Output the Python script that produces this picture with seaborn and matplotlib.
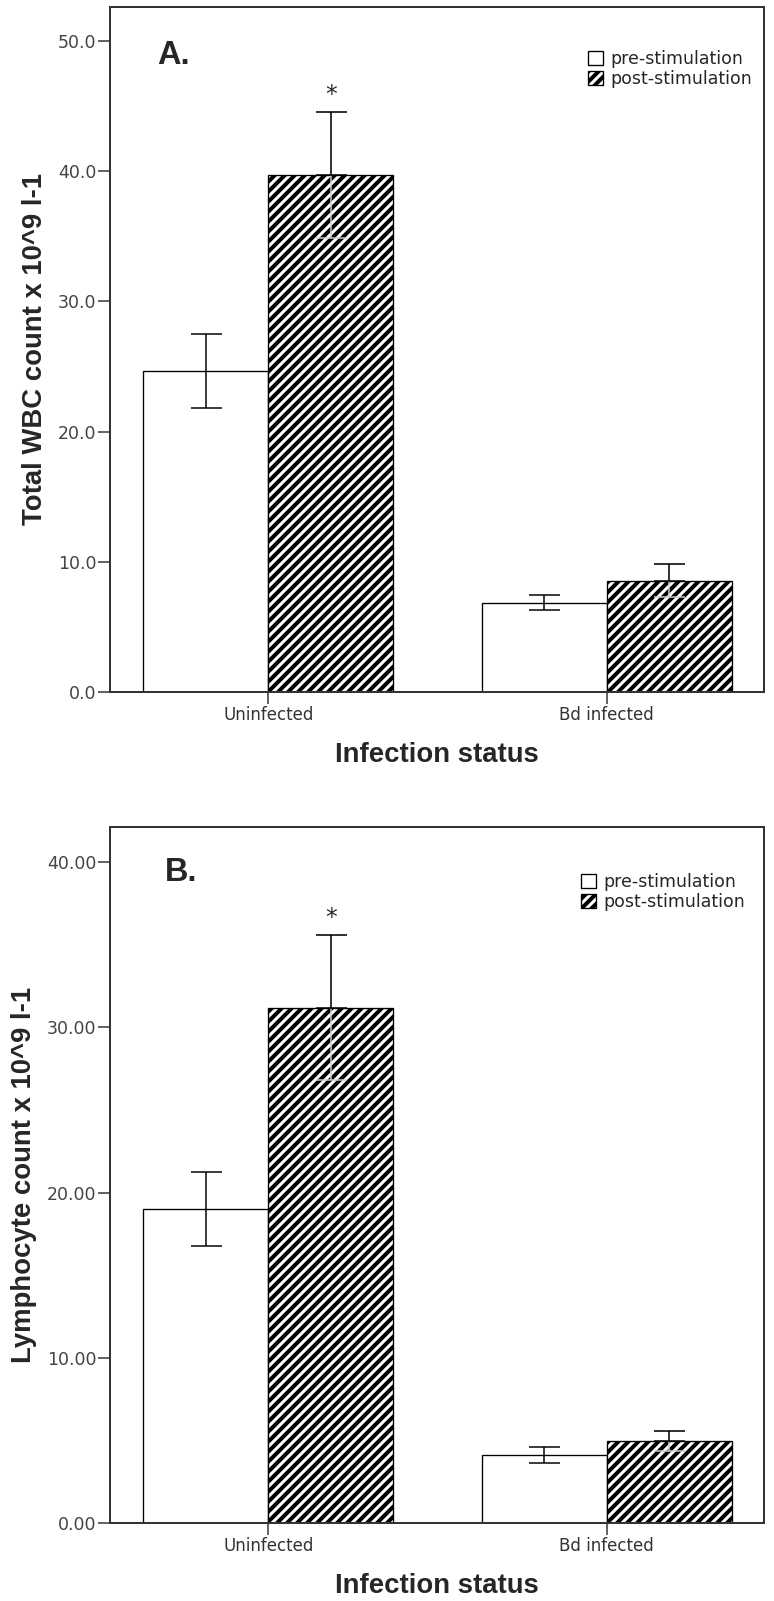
import matplotlib
matplotlib.use('Agg')
import matplotlib.pyplot as plt
import seaborn as sns
import pandas as pd
from matplotlib.ticker import FormatStrFormatter

# group means and standard errors
status = ['Uninfected', 'Bd infected']
stim = ['pre-stimulation', 'post-stimulation']

wbc_pre = [24.65, 6.86]
wbc_post = [39.7, 8.55]
wbc_pre_se = [2.83, 0.59]
wbc_post_se = [4.85, 1.26]

lym_pre = [19.0, 4.15]
lym_post = [31.2, 5.0]
lym_pre_se = [2.23, 0.48]
lym_post_se = [4.4, 0.6]

wbc_ticks = [0, 10, 20, 30, 40, 50]
lym_ticks = [0, 10, 20, 30, 40]

sns.set_style('white')
plt.rcParams['font.family'] = ['DejaVu Sans']
plt.rcParams['hatch.linewidth'] = 2.4
plt.rcParams['hatch.color'] = 'black'

DPI = 120
fig = plt.figure(figsize=(774 / DPI, 1601 / DPI), dpi=DPI)
ax_a = fig.add_axes([0.14212, 0.56777, 0.84496, 0.42805])
ax_b = fig.add_axes([0.14212, 0.04853, 0.84496, 0.43461])


def draw_panel(ax, pre, post, pre_se, post_se, ymax, yticks, fmt, ylabel, letter, letter_pos, leg_anchor):
    df = pd.DataFrame({
        'status': status * 2,
        'stim': [stim[0]] * 2 + [stim[1]] * 2,
        'value': pre + post,
    })
    sns.barplot(data=df, x='status', y='value', hue='stim', order=status, hue_order=stim,
                palette=['white', 'white'], saturation=1, edgecolor='black', linewidth=0.8,
                width=0.738, gap=0, errorbar=None, legend=False, ax=ax)
    for p in ax.containers[1]:
        p.set_hatch('////')

    # error bars (the part inside the hatched bar shows faintly)
    for cont, means, ses, hatched in [(ax.containers[0], pre, pre_se, False),
                                      (ax.containers[1], post, post_se, True)]:
        for bar, m, e in zip(cont, means, ses):
            xc = bar.get_x() + bar.get_width() / 2
            ax.errorbar(xc, m, yerr=e, fmt='none', ecolor='#cfcfcf' if hatched else 'black',
                        elinewidth=0.9, capsize=9.3, capthick=0.9, zorder=4)
            if hatched:
                ax.errorbar(xc, m, yerr=[[0], [e]], fmt='none', ecolor='black',
                            elinewidth=0.9, capsize=9.3, capthick=0.9, zorder=5)

    # significance mark over uninfected post-stimulation
    bar = ax.containers[1][0]
    ax.annotate('*', xy=(bar.get_x() + bar.get_width() / 2, post[0] + post_se[0]),
                xytext=(0, 10.5), textcoords='offset points', ha='center', va='center',
                fontsize=14)

    ax.set_xlim(-0.468, 1.465)
    ax.set_ylim(0, ymax)
    ax.set_yticks(yticks)
    ax.yaxis.set_major_formatter(FormatStrFormatter(fmt))

    for s in ax.spines.values():
        s.set_visible(True)
        s.set_color('#333333')
        s.set_linewidth(1.2)
    ax.tick_params(axis='y', direction='out', length=7, width=0.9, color='#333333',
                   labelcolor='#444444', labelsize=10.4, pad=1, left=True)
    ax.tick_params(axis='x', direction='out', length=7, width=0.9, color='#333333',
                   labelcolor='#333333', labelsize=10, pad=1.5, bottom=True)

    ax.set_xlabel('Infection status', fontsize=16.5, fontweight='bold',
                  family='Liberation Sans', labelpad=10.5)
    ax.set_ylabel(ylabel, fontsize=16.5, fontweight='bold', family='Liberation Sans',
                  labelpad=6)

    ax.text(letter_pos[0], letter_pos[1], letter, transform=ax.transAxes, fontsize=19.5,
            fontweight='bold', family='Liberation Sans', va='baseline', ha='left')

    ax.legend(handles=[ax.containers[0][0], ax.containers[1][0]], labels=stim,
              loc='upper right', bbox_to_anchor=leg_anchor, frameon=False, borderpad=0,
              borderaxespad=0, handlelength=0.9, handleheight=0.9, handletextpad=0.4,
              labelspacing=0.12, prop={'family': 'DejaVu Sans', 'size': 10.4})


draw_panel(ax_a, wbc_pre, wbc_post, wbc_pre_se, wbc_post_se, 52.64, wbc_ticks, '%.1f',
           'Total WBC count x 10^9 l-1', 'A.', (0.0719, 0.9164), (0.9817, 0.937))
draw_panel(ax_b, lym_pre, lym_post, lym_pre_se, lym_post_se, 42.1, lym_ticks, '%.2f',
           'Lymphocyte count x 10^9 l-1', 'B.', (0.0841, 0.9231), (0.971, 0.9346))

fig.savefig('out.png', dpi=DPI)
